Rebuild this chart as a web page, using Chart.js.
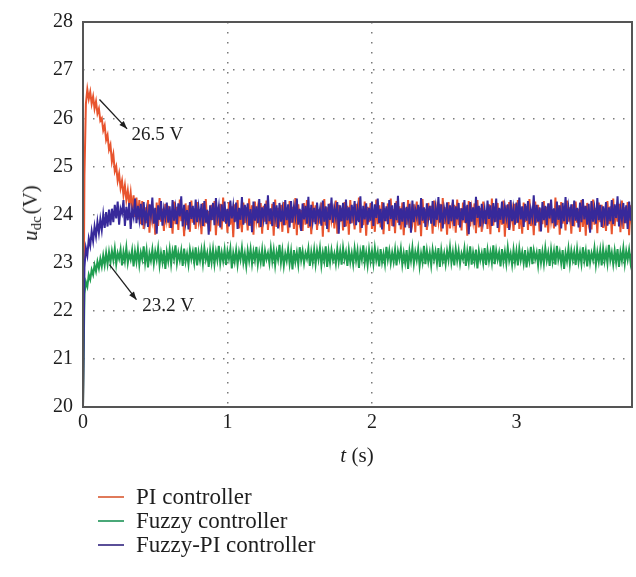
<!DOCTYPE html>
<html><head><meta charset="utf-8">
<script src="https://cdn.jsdelivr.net/npm/chart.js@4/dist/chart.umd.min.js"></script>
<style>
body{margin:0;background:#fff;}
#wrap{position:relative;width:636px;height:577px;font-family:'Liberation Serif','DejaVu Serif',serif;color:#1e1e1e;}
canvas{position:absolute;left:0;top:0;}
.ytitle{position:absolute;left:32px;top:213px;transform:translate(-50%,-50%) rotate(-90deg);font-size:21px;white-space:nowrap;line-height:1;}
.ytitle sub{font-size:15px;vertical-align:-4px;}
.xtitle{position:absolute;left:357px;top:455px;transform:translate(-50%,-50%);font-size:21px;white-space:nowrap;line-height:1;}
#legend{position:absolute;left:98px;top:485px;font-size:23px;line-height:24px;}
#legend .row{display:flex;align-items:center;height:24px;}
#legend .ln{display:inline-block;width:26px;height:1.5px;margin-right:12px;}
</style></head>
<body>
<div id="wrap">
<canvas id="c" width="636" height="577"></canvas>
<div class="ytitle"><i>u</i><sub>dc</sub>&#8202;(V)</div>
<div class="xtitle"><i>t</i> (s)</div>
<div id="legend"></div>
</div>
<script>
const T_STEP = 0.01; // sampling interval of the recorded traces (s)
const xTicks = [0, 1, 2, 3];
const yTicks = [20, 21, 22, 23, 24, 25, 26, 27, 28];
const seriesLabels = ['PI controller', 'Fuzzy controller', 'Fuzzy-PI controller'];
const seriesColors = ['#e8542e', '#1f9e50', '#37299a'];
const legendColors = ['#e07a5a', '#4aa878', '#5a4f98'];

const piValues = [20.0, 24.8, 26.3, 26.6, 26.4, 26.55, 26.3, 26.45, 26.2, 26.35, 26.1, 26.2, 25.95, 26.0, 25.75, 25.85, 25.55, 25.65, 25.35, 25.45,
25.1, 25.25, 24.9, 25.0, 24.7, 24.85, 24.55, 24.7, 24.4, 24.6, 24.3, 24.5, 24.2, 24.45, 24.1, 24.4, 23.95, 24.35, 23.9, 24.3, 23.8,
24.28, 23.7, 24.15, 23.82, 24.3, 23.62, 24.2, 23.88, 24.1, 23.58, 24.25, 23.76, 24.34, 23.85, 24.12, 23.66, 24.22, 23.9, 24.18, 23.72,
24.05, 23.6, 24.27, 23.8, 24.16, 23.68, 24.31, 23.86, 24.09, 23.55, 24.23, 23.78, 24.19, 23.64, 24.29, 23.83, 24.13, 23.7, 24.26, 23.87,
24.11, 23.59, 24.24, 23.75, 24.32, 23.81, 24.07, 23.65, 24.2, 23.89, 24.28, 23.57, 24.14, 23.77, 24.22, 23.69, 24.35, 23.84, 24.1, 23.62,
24.26, 23.79, 24.17, 23.53, 24.21, 23.86, 24.3, 23.71, 24.08, 23.63, 24.25, 23.82, 24.15, 23.67, 24.33, 23.76, 24.19, 23.58, 24.27, 23.88,
24.12, 23.73, 24.24, 23.6, 24.18, 23.85, 24.29, 23.68, 24.06, 23.8, 24.22, 23.56, 24.31, 23.74, 24.14, 23.87, 24.2, 23.64, 24.26, 23.78,
24.1, 23.61, 24.28, 23.83, 24.16, 23.7, 24.34, 23.57, 24.21, 23.86, 24.09, 23.66, 24.24, 23.79, 24.3, 23.72, 24.13, 23.59, 24.27, 23.84,
24.19, 23.68, 24.11, 23.81, 24.25, 23.54, 24.32, 23.77, 24.15, 23.63, 24.23, 23.88, 24.07, 23.71, 24.29, 23.6, 24.2, 23.85, 24.14, 23.67,
24.26, 23.75, 24.18, 23.58, 24.3, 23.82, 24.12, 23.69, 24.22, 23.87, 24.35, 23.62, 24.1, 23.78, 24.27, 23.56, 24.16, 23.84, 24.24, 23.7,
24.08, 23.64, 24.31, 23.8, 24.19, 23.73, 24.26, 23.59, 24.13, 23.86, 24.23, 23.66, 24.33, 23.76, 24.11, 23.61, 24.28, 23.83, 24.17, 23.69,
24.25, 23.57, 24.14, 23.79, 24.3, 23.72, 24.09, 23.85, 24.21, 23.63, 24.27, 23.77, 24.16, 23.55, 24.32, 23.82, 24.12, 23.68, 24.24, 23.88,
24.18, 23.6, 24.29, 23.74, 24.1, 23.86, 24.22, 23.65, 24.34, 23.8, 24.15, 23.58, 24.26, 23.71, 24.07, 23.84, 24.2, 23.62, 24.31, 23.78,
24.13, 23.67, 24.25, 23.83, 24.17, 23.56, 24.28, 23.75, 24.11, 23.87, 24.23, 23.61, 24.3, 23.73, 24.14, 23.64, 24.27, 23.81, 24.09, 23.7,
24.21, 23.59, 24.33, 23.77, 24.16, 23.85, 24.24, 23.63, 24.12, 23.79, 24.29, 23.54, 24.19, 23.72, 24.26, 23.86, 24.08, 23.66, 24.22, 23.82,
24.3, 23.7, 24.14, 23.6, 24.25, 23.84, 24.18, 23.68, 24.32, 23.76, 24.1, 23.57, 24.27, 23.83, 24.2, 23.65, 24.13, 23.8, 24.28, 23.73,
24.16, 23.62, 24.23, 23.87, 24.11, 23.71, 24.35, 23.78, 24.19, 23.58, 24.26, 23.81, 24.07, 23.67, 24.29, 23.85, 24.15, 23.6, 24.21, 23.75,
24.27, 23.83, 24.12, 23.64, 24.3, 23.74, 24.18, 23.56, 24.24, 23.86, 24.09, 23.69, 24.31, 23.79, 24.14, 23.61, 24.25, 23.84, 24.2, 23.72,
24.1, 23.66, 24.28, 23.8, 24.17, 23.59, 24.33, 23.76, 24.13, 23.85, 24.22, 23.63, 24.29, 23.7, 24.15, 23.82, 24.26, 23.57, 24.19, 23.78];

const fuzzyValues = [20.0, 22.35, 22.6, 22.5, 22.75, 22.65, 22.85, 22.75, 22.95, 22.82, 23.02, 22.88, 23.08, 22.92, 23.15, 22.95, 23.2, 22.97, 23.22,
23.0, 23.24, 23.05, 23.29, 22.97, 23.2, 23.08, 23.27, 22.94, 23.22, 23.03, 23.31, 22.99, 23.18, 23.06, 23.26, 22.92, 23.23, 23.02, 23.28,
22.96, 23.21, 23.07, 23.34, 23.0, 23.25, 22.9, 23.19, 23.04, 23.27, 22.98, 23.23, 23.06, 23.3, 22.95, 23.2, 23.01, 23.26, 22.87, 23.22,
23.03, 23.28, 22.97, 23.24, 23.08, 23.36, 22.99, 23.21, 23.05, 23.25, 22.93, 23.29, 23.02, 23.19, 22.96, 23.27, 23.07, 23.23, 23.0, 23.32,
22.94, 23.22, 23.04, 23.26, 22.98, 23.3, 23.06, 23.2, 22.91, 23.25, 23.01, 23.28, 22.97, 23.23, 23.05, 23.35, 22.99, 23.21, 23.03, 23.27,
22.95, 23.24, 23.08, 23.29, 22.88, 23.2, 23.02, 23.26, 22.96, 23.22, 23.06, 23.31, 23.0, 23.19, 22.93, 23.25, 23.04, 23.28, 22.98, 23.23,
23.05, 23.33, 22.97, 23.21, 23.01, 23.27, 22.92, 23.24, 23.07, 23.2, 22.99, 23.3, 23.03, 23.26, 22.95, 23.22, 23.06, 23.37, 23.0, 23.25,
22.94, 23.19, 23.04, 23.28, 22.98, 23.23, 22.86, 23.26, 23.02, 23.21, 22.96, 23.32, 23.05, 23.24, 22.99, 23.2, 23.08, 23.29, 22.93, 23.22,
23.01, 23.27, 22.97, 23.25, 23.06, 23.3, 22.95, 23.21, 23.03, 23.34, 22.91, 23.23, 23.0, 23.26, 23.05, 23.19, 22.98, 23.28, 23.02, 23.24,
22.96, 23.31, 23.07, 23.22, 22.93, 23.26, 23.01, 23.2, 22.97, 23.29, 23.04, 23.25, 22.89, 23.23, 23.06, 23.36, 23.0, 23.21, 22.95, 23.27,
23.03, 23.24, 22.98, 23.3, 23.05, 23.22, 22.92, 23.28, 23.01, 23.19, 22.97, 23.33, 23.06, 23.25, 22.99, 23.21, 23.02, 23.27, 22.94, 23.23,
23.07, 23.29, 22.96, 23.2, 23.0, 23.26, 22.87, 23.24, 23.04, 23.31, 22.98, 23.22, 23.05, 23.28, 22.93, 23.19, 23.01, 23.35, 22.97, 23.25,
23.02, 23.21, 22.95, 23.27, 23.06, 23.23, 22.99, 23.3, 22.91, 23.26, 23.03, 23.2, 22.97, 23.24, 23.05, 23.32, 23.0, 23.22, 22.94, 23.28,
23.04, 23.25, 22.98, 23.19, 23.07, 23.29, 22.93, 23.23, 23.01, 23.34, 22.96, 23.21, 23.02, 23.27, 22.88, 23.24, 23.05, 23.2, 22.99, 23.3,
22.95, 23.26, 23.03, 23.22, 23.0, 23.36, 22.97, 23.25, 23.06, 23.21, 22.92, 23.28, 23.02, 23.23, 22.98, 23.31, 23.04, 23.19, 22.96, 23.27,
23.01, 23.24, 22.94, 23.29, 23.05, 23.22, 22.99, 23.26, 22.9, 23.2, 23.03, 23.33, 22.97, 23.25, 23.07, 23.21, 22.95, 23.28, 23.0, 23.23,
22.98, 23.3, 23.04, 23.21, 22.93, 23.27, 23.02, 23.24, 22.96, 23.35, 23.06, 23.22, 22.99, 23.26, 22.87, 23.2, 23.03, 23.29, 22.97, 23.25,
23.05, 23.23, 22.95, 23.28, 23.01, 23.21, 22.98, 23.32, 23.04, 23.24, 22.92, 23.27, 23.0, 23.2, 23.06, 23.3, 22.96, 23.22, 23.02, 23.26,
22.94, 23.29, 23.03, 23.23, 22.99, 23.37, 23.05, 23.21, 22.97, 23.25, 23.01, 23.28, 22.91, 23.22, 23.04, 23.3, 22.98, 23.24, 23.06, 23.27,
23.0, 23.22];

const fuzzyPiValues = [20.0, 22.9, 23.3, 23.15, 23.5, 23.35, 23.65, 23.45, 23.75, 23.55, 23.85, 23.62, 23.9, 23.68, 24.0, 23.72, 24.05, 23.75, 24.1, 23.78, 24.12,
23.84, 24.2, 23.92, 24.27, 23.79, 24.12, 24.02, 24.3, 23.76, 24.16, 23.88, 24.24, 23.7, 24.1, 23.95, 24.33, 23.82, 24.18, 23.9, 24.22,
23.78, 24.26, 23.86, 24.08, 23.74, 24.21, 23.97, 24.35, 23.81, 24.14, 23.6, 24.19, 23.89, 24.28, 23.77, 24.11, 23.93, 24.25, 23.83, 24.17,
23.72, 24.3, 23.87, 24.13, 23.8, 24.23, 23.96, 24.38, 23.75, 24.2, 23.85, 24.09, 23.69, 24.26, 23.91, 24.18, 23.79, 24.31, 23.84, 24.15,
23.9, 24.22, 23.76, 24.28, 23.83, 24.1, 23.58, 24.19, 23.88, 24.24, 23.78, 24.34, 23.94, 24.16, 23.73, 24.21, 23.86, 24.27, 23.81, 24.12,
23.75, 24.29, 23.92, 24.18, 23.84, 24.25, 23.7, 24.14, 23.89, 24.36, 23.79, 24.2, 23.95, 24.23, 23.77, 24.11, 23.63, 24.27, 23.87, 24.17,
23.82, 24.32, 23.74, 24.15, 23.91, 24.22, 23.8, 24.4, 23.86, 24.13, 23.76, 24.26, 23.93, 24.19, 23.71, 24.24, 23.85, 24.1, 23.78, 24.3,
23.88, 24.21, 23.73, 24.28, 23.83, 24.16, 23.96, 24.33, 23.79, 24.12, 23.66, 24.23, 23.9, 24.18, 23.81, 24.37, 23.75, 24.2, 23.87, 24.14,
23.8, 24.25, 23.92, 24.11, 23.77, 24.29, 23.85, 24.17, 23.7, 24.22, 23.89, 24.35, 23.83, 24.13, 23.94, 24.26, 23.6, 24.19, 23.86, 24.24,
23.74, 24.31, 23.88, 24.15, 23.81, 24.2, 23.95, 24.28, 23.78, 24.1, 23.84, 24.38, 23.72, 24.18, 23.9, 24.23, 23.79, 24.14, 23.87, 24.27,
23.76, 24.21, 23.93, 24.33, 23.82, 24.12, 23.69, 24.25, 23.86, 24.17, 23.8, 24.3, 23.91, 24.19, 23.75, 24.24, 23.88, 24.39, 23.78, 24.13,
23.85, 24.26, 23.73, 24.16, 23.9, 24.22, 23.62, 24.29, 23.84, 24.11, 23.96, 24.2, 23.79, 24.34, 23.87, 24.15, 23.74, 24.23, 23.92, 24.18,
23.81, 24.28, 23.77, 24.14, 23.89, 24.36, 23.83, 24.21, 23.71, 24.12, 23.94, 24.25, 23.8, 24.19, 23.86, 24.31, 23.76, 24.17, 23.9, 24.24,
23.73, 24.13, 23.88, 24.3, 23.82, 24.2, 23.59, 24.26, 23.85, 24.15, 23.78, 24.37, 23.93, 24.18, 23.75, 24.22, 23.87, 24.11, 23.8, 24.29,
23.91, 24.19, 23.76, 24.24, 23.84, 24.33, 23.72, 24.14, 23.89, 24.27, 23.81, 24.16, 23.95, 24.21, 23.68, 24.3, 23.86, 24.12, 23.79, 24.25,
23.83, 24.35, 23.9, 24.17, 23.74, 24.22, 23.87, 24.28, 23.8, 24.1, 23.93, 24.4, 23.77, 24.2, 23.85, 24.15, 23.65, 24.26, 23.88, 24.18,
23.78, 24.23, 23.92, 24.31, 23.82, 24.13, 23.75, 24.27, 23.89, 24.19, 23.71, 24.24, 23.86, 24.36, 23.8, 24.16, 23.94, 24.21, 23.76, 24.29,
23.87, 24.14, 23.73, 24.25, 23.84, 24.32, 23.9, 24.18, 23.79, 24.22, 23.62, 24.28, 23.85, 24.12, 23.81, 24.34, 23.88, 24.2, 23.74, 24.17,
23.91, 24.26, 23.77, 24.15, 23.86, 24.3, 23.8, 24.21, 23.93, 24.38, 23.75, 24.13, 23.89, 24.24, 23.82, 24.19, 23.7, 24.27, 23.87, 24.22];

// annotation callouts in data coordinates
const callouts = [
  {text: '26.5 V', from: [0.114, 26.39], to: [0.305, 25.78], label: [0.335, 25.66]},
  {text: '23.2 V', from: [0.183, 22.96], to: [0.37, 22.23], label: [0.41, 22.09]}
];

const toPoints = vals => vals.map((v, i) => ({x: Math.round(i * T_STEP * 100) / 100, y: v}));
const seriesValues = [piValues, fuzzyValues, fuzzyPiValues];
const drawOrder = [2, 1, 0];

const FONT = "'Liberation Serif','DejaVu Serif',serif";

const frame = {
  id: 'frame',
  afterDatasetsDraw(chart) {
    const {ctx, chartArea: a, scales: {x, y}} = chart;
    ctx.save();
    ctx.strokeStyle = '#555';
    ctx.lineWidth = 2;
    ctx.strokeRect(a.left, a.top, a.right - a.left, a.bottom - a.top);
    ctx.fillStyle = '#1e1e1e';
    ctx.strokeStyle = '#1e1e1e';
    ctx.font = '19px ' + FONT;
    ctx.textBaseline = 'middle';
    callouts.forEach(c => {
      const x1 = x.getPixelForValue(c.from[0]), y1 = y.getPixelForValue(c.from[1]);
      const x2 = x.getPixelForValue(c.to[0]), y2 = y.getPixelForValue(c.to[1]);
      ctx.lineWidth = 1.3;
      ctx.beginPath(); ctx.moveTo(x1, y1); ctx.lineTo(x2, y2); ctx.stroke();
      const ang = Math.atan2(y2 - y1, x2 - x1), L = 8, W = 3;
      ctx.beginPath();
      ctx.moveTo(x2, y2);
      ctx.lineTo(x2 - L * Math.cos(ang) + W * Math.sin(ang), y2 - L * Math.sin(ang) - W * Math.cos(ang));
      ctx.lineTo(x2 - L * Math.cos(ang) - W * Math.sin(ang), y2 - L * Math.sin(ang) + W * Math.cos(ang));
      ctx.closePath(); ctx.fill();
      ctx.fillText(c.text, x.getPixelForValue(c.label[0]), y.getPixelForValue(c.label[1]));
    });
    ctx.restore();
  }
};

const interior = (ticks) => (ctx) => {
  const v = ctx.tick ? ctx.tick.value : null;
  return (v !== null && v !== ticks[0] && v !== ticks[ticks.length - 1]) ? '#7a7a7a' : 'rgba(0,0,0,0)';
};

new Chart(document.getElementById('c'), {
  type: 'line',
  data: {
    datasets: seriesLabels.map((lab, k) => ({
      label: lab,
      data: toPoints(seriesValues[k]),
      borderColor: seriesColors[k],
      backgroundColor: seriesColors[k],
      borderWidth: 2,
      pointRadius: 0,
      tension: 0,
      order: drawOrder[k]
    }))
  },
  options: {
    responsive: false,
    animation: false,
    events: [],
    layout: {padding: {top: 22, right: 4, bottom: 130, left: 0}},
    plugins: {legend: {display: false}, tooltip: {enabled: false}},
    scales: {
      x: {
        type: 'linear', min: 0, max: 3.8,
        afterBuildTicks: s => { s.ticks = xTicks.map(v => ({value: v})); },
        afterFit: s => { s.height = 40; },
        ticks: {font: {family: FONT, size: 20}, color: '#1e1e1e', padding: 4, maxRotation: 0},
        grid: {color: interior(xTicks), lineWidth: 1.5, drawTicks: false},
        border: {display: false, dash: [1.5, 8.5]}
      },
      y: {
        type: 'linear', min: 20, max: 28,
        afterBuildTicks: s => { s.ticks = yTicks.map(v => ({value: v})); },
        afterFit: s => { s.width = 83; },
        ticks: {font: {family: FONT, size: 20}, color: '#1e1e1e', padding: 10},
        grid: {color: interior(yTicks), lineWidth: 1.5, drawTicks: false},
        border: {display: false, dash: [1.5, 8.5]}
      }
    }
  },
  plugins: [frame]
});

const leg = document.getElementById('legend');
seriesLabels.forEach((lab, k) => {
  const row = document.createElement('div');
  row.className = 'row';
  const ln = document.createElement('span');
  ln.className = 'ln';
  ln.style.background = legendColors[k];
  const tx = document.createElement('span');
  tx.textContent = lab;
  row.appendChild(ln); row.appendChild(tx);
  leg.appendChild(row);
});
</script>
</body></html>
